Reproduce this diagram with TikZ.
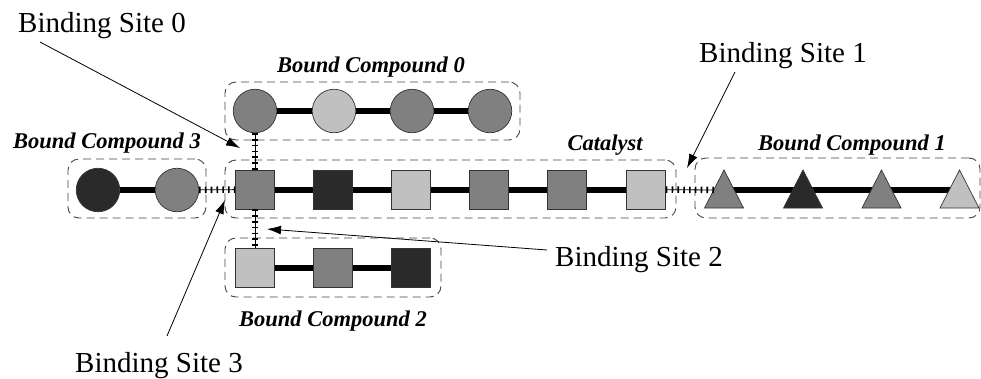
\documentclass[tikz,border=0pt]{standalone}
\usepackage{fontspec}
\setmainfont{Liberation Serif}
\usetikzlibrary{arrows.meta,fit}
\definecolor{gmid}{HTML}{808080}
\definecolor{glight}{HTML}{C0C0C0}
\definecolor{gdark}{HTML}{2A2A2A}
\definecolor{boxline}{HTML}{444444}
\tikzset{
  atom/.style={draw=black!80, line width=0.7pt, inner sep=0pt},
  ball/.style={atom, circle, minimum size=43.5pt},
  cube/.style={atom, rectangle, minimum size=39pt},
  bond/.style={line width=6pt, black},
  hbond/.style={line width=0.8pt, black,
    preaction={draw, line width=6.5pt, dash pattern=on 1.6pt off 4.2pt}},
  group/.style={draw=boxline, line width=0.9pt, dash pattern=on 8pt off 5pt,
    rounded corners=11pt, inner sep=0pt},
  grouplabel/.style={font=\fontsize{22.5}{24}\selectfont\bfseries\itshape},
  sitelabel/.style={font=\fontsize{29}{31}\selectfont},
  pointer/.style={line width=0.8pt, -{Latex[length=14pt,width=9pt]}},
}
\begin{document}
\begin{tikzpicture}[x=1pt,y=-1pt]
\useasboundingbox (0,0) rectangle (981,378);

% group outlines
\node[group, fit={(225,82) (520,140)}] (g0) {};
\node[group, fit={(68,159) (206,218)}] (g3) {};
\node[group, fit={(225,160) (676,218)}] (gc) {};
\node[group, fit={(695,158) (980,218)}] (g1) {};
\node[group, fit={(225,238) (441,297)}] (g2) {};

% group names
\node[grouplabel] (l0) at (371,67) {Bound Compound 0};
\node[grouplabel] (l3) at (107,143) {Bound Compound 3};
\node[grouplabel] (lc) at (605,145) {Catalyst};
\node[grouplabel] (l1) at (852,145) {Bound Compound 1};
\node[grouplabel] (l2) at (333,321) {Bound Compound 2};

% catalyst chain
\node[cube, fill=gmid]   (c1) at (255,189.5) {};
\node[cube, fill=gdark]  (c2) at (333,189.5) {};
\node[cube, fill=glight] (c3) at (411,189.5) {};
\node[cube, fill=gmid]   (c4) at (489,189.5) {};
\node[cube, fill=gmid]   (c5) at (567,189.5) {};
\node[cube, fill=glight] (c6) at (646,189.5) {};
\foreach \a/\b in {c1/c2,c2/c3,c3/c4,c4/c5,c5/c6} \draw[bond] (\a) -- (\b);

% bound compound 0
\node[ball, fill=gmid]   (a1) at (255,111) {};
\node[ball, fill=glight] (a2) at (334,111) {};
\node[ball, fill=gmid]   (a3) at (412,111) {};
\node[ball, fill=gmid]   (a4) at (490,111) {};
\foreach \a/\b in {a1/a2,a2/a3,a3/a4} \draw[bond] (\a) -- (\b);

% bound compound 3
\node[ball, fill=gdark] (d1) at (98,190) {};
\node[ball, fill=gmid]  (d2) at (177,190) {};
\draw[bond] (d1) -- (d2);

% bound compound 2
\node[cube, fill=glight] (b1) at (255,267.5) {};
\node[cube, fill=gmid]   (b2) at (333,267.5) {};
\node[cube, fill=gdark]  (b3) at (411,267.5) {};
\foreach \a/\b in {b1/b2,b2/b3} \draw[bond] (\a) -- (\b);

% bound compound 1 (triangles drawn around named centres)
\coordinate (t1) at (724,190);
\coordinate (t2) at (803,190);
\coordinate (t3) at (881.5,190);
\coordinate (t4) at (959.5,190);
\draw[bond] (t1) -- (t2) -- (t3) -- (t4);
\foreach \t/\c in {t1/gmid,t2/gdark,t3/gmid,t4/glight}
  \draw[draw=black!80, line width=0.7pt, fill=\c]
    (\t) ++(-19.5,18) -- ++(19.5,-38) -- ++(19.5,38) -- cycle;

% binding-site bonds
\draw[hbond] (a1) -- (c1);
\draw[hbond] (c1) -- (b1);
\draw[hbond] (d2) -- (c1);
\draw[hbond] (c6) -- (t1 -| 714,0);

% binding-site callouts
\node[sitelabel] (s0) at (102,26) {Binding Site 0};
\node[sitelabel] (s1) at (783,56) {Binding Site 1};
\node[sitelabel] (s2) at (639,260) {Binding Site 2};
\node[sitelabel] (s3) at (159,366) {Binding Site 3};

\coordinate (s0a) at (40,42);   \coordinate (p0) at (240,148);
\coordinate (s1a) at (735,72);  \coordinate (p1) at (687,168);
\coordinate (s2a) at (547,250); \coordinate (p2) at (267,229);
\coordinate (s3a) at (167,336); \coordinate (p3) at (225,200);
\draw[pointer] (s0a) -- (p0);
\draw[pointer] (s1a) -- (p1);
\draw[pointer] (s2a) -- (p2);
\draw[pointer] (s3a) -- (p3);
\end{tikzpicture}
\end{document}
